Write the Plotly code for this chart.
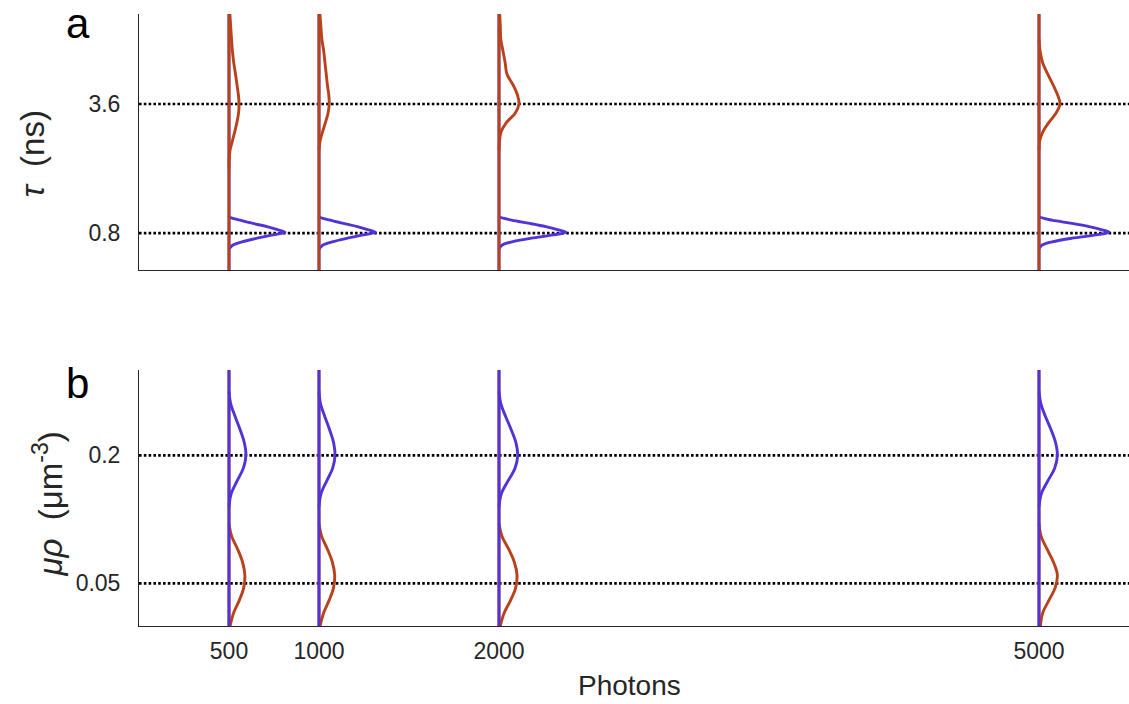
import plotly.graph_objects as go

# ---------------------------------------------------------------------------
# Data
# ---------------------------------------------------------------------------
PHOTONS = [500, 1000, 2000, 5000]
PHOTON_LABELS = ["500", "1000", "2000", "5000"]

# ground-truth values (dotted reference lines)
TAU_TRUE = [0.8, 3.6]          # ns
MU_RHO_TRUE = [0.05, 0.2]      # um^-3

# Panel a, species 1 (fast lifetime) posterior, width in photon units
TAU_GRID_S1 = [1.17, 1.15, 1.08, 1.01, 0.94, 0.87, 0.82, 0.76, 0.69, 0.61, 0.54, 0.48, 0.45]
S1_TAU_500 = [0, 2, 61, 133, 211, 272, 311, 244, 156, 72, 22, 6, 0]
S1_TAU_1000 = [0, 2, 62, 135, 213, 275, 313, 246, 158, 73, 22, 6, 0]
S1_TAU_2000 = [0, 3, 70, 170, 260, 330, 372, 300, 180, 72, 18, 3, 0]
S1_TAU_5000 = [0, 3, 72, 183, 278, 350, 389, 317, 183, 72, 17, 3, 0]

# Panel a, species 2 (slow lifetime) posterior
TAU_GRID_S2 = [5.55, 5.30, 5.00, 4.75, 4.50, 4.25, 4.00, 3.80, 3.60, 3.40, 3.20, 3.00, 2.80, 2.60, 2.40, 2.20]
S2_TAU_500 = [5, 9, 14, 19, 26, 36, 45, 52, 56, 53, 44, 32, 19, 6, 1, 0]
S2_TAU_1000 = [5, 10, 16, 26, 33, 40, 47, 54, 57, 50, 36, 20, 6, 0, 0, 0]
S2_TAU_2000 = [4, 7, 10, 22, 34, 44, 80, 102, 111, 90, 42, 12, 3, 0, 0, 0]
S2_TAU_5000 = [0, 0, 0, 6, 20, 48, 80, 103, 117, 94, 55, 22, 4, 0, 0, 0]

# Panel b, species 1 brightness posterior
MU_GRID_S1 = [0.275, 0.26, 0.245, 0.23, 0.215, 0.20, 0.185, 0.17, 0.155, 0.14]
S1_MU_500 = [0, 10, 35, 62, 85, 94, 80, 45, 12, 0]
S1_MU_1000 = [0, 9, 33, 59, 81, 89, 76, 43, 11, 0]
S1_MU_2000 = [0, 11, 38, 68, 94, 104, 89, 50, 13, 0]
S1_MU_5000 = [0, 11, 37, 67, 92, 102, 87, 49, 13, 0]

# Panel b, species 2 brightness posterior
MU_GRID_S2 = [0.12, 0.105, 0.09, 0.075, 0.06, 0.045, 0.03, 0.015, 0.0]
S2_MU_500 = [0, 15, 48, 75, 88, 82, 57, 25, 6]
S2_MU_1000 = [0, 15, 47, 74, 87, 81, 56, 25, 6]
S2_MU_2000 = [0, 17, 54, 85, 100, 93, 64, 28, 7]
S2_MU_5000 = [0, 12, 45, 80, 102, 90, 55, 20, 8]

TAU_RANGE = [0, 5.55]
MU_RHO_RANGE = [0, 0.30]
PHOTON_RANGE = [0, 5500]

BLUE = "#5234D6"
RED = "#B8421E"
INK = "#262626"
FONT = "Liberation Sans, Arial, sans-serif"
LW = 2.9

S1_TAU = dict(zip(PHOTONS, [S1_TAU_500, S1_TAU_1000, S1_TAU_2000, S1_TAU_5000]))
S2_TAU = dict(zip(PHOTONS, [S2_TAU_500, S2_TAU_1000, S2_TAU_2000, S2_TAU_5000]))
S1_MU = dict(zip(PHOTONS, [S1_MU_500, S1_MU_1000, S1_MU_2000, S1_MU_5000]))
S2_MU = dict(zip(PHOTONS, [S2_MU_500, S2_MU_1000, S2_MU_2000, S2_MU_5000]))


def trim(grid, widths):
    """Drop repeated zero-width samples at both ends, keeping one zero."""
    idx = [i for i, w in enumerate(widths) if w > 0]
    lo = max(idx[0] - 1, 0)
    hi = min(idx[-1] + 1, len(widths) - 1)
    return grid[lo:hi + 1], widths[lo:hi + 1]


fig = go.Figure()


def add_species(grid, table, color, xa, ya, yrange):
    for n in PHOTONS:
        # vertical baseline at the photon count
        fig.add_trace(go.Scatter(
            x=[n, n], y=yrange, mode="lines", xaxis=xa, yaxis=ya,
            line=dict(color=color, width=LW), hoverinfo="skip", showlegend=False))
        g, w = trim(grid, table[n])
        fig.add_trace(go.Scatter(
            x=[n + v for v in w], y=g, mode="lines", xaxis=xa, yaxis=ya,
            line=dict(color=color, width=LW, shape="spline", smoothing=1.0),
            hoverinfo="skip", showlegend=False))


# panel a: species 2 drawn over species 1
add_species(TAU_GRID_S1, S1_TAU, BLUE, "x", "y", TAU_RANGE)
add_species(TAU_GRID_S2, S2_TAU, RED, "x", "y", TAU_RANGE)
# panel b: species 1 drawn over species 2
add_species(MU_GRID_S2, S2_MU, RED, "x2", "y2", MU_RHO_RANGE)
add_species(MU_GRID_S1, S1_MU, BLUE, "x2", "y2", MU_RHO_RANGE)

# dotted ground-truth lines
for v in TAU_TRUE:
    fig.add_shape(type="line", xref="x domain", yref="y", x0=0, x1=1, y0=v, y1=v,
                  layer="below", line=dict(color="black", width=2.6, dash="2.6px,2.2px"))
for v in MU_RHO_TRUE:
    fig.add_shape(type="line", xref="x2 domain", yref="y2", x0=0, x1=1, y0=v, y1=v,
                  layer="below", line=dict(color="black", width=2.6, dash="2.6px,2.2px"))

axis_common = dict(showgrid=False, zeroline=False, showline=True, linecolor=INK,
                   linewidth=1, mirror=False,
                   tickfont=dict(family=FONT, size=23, color=INK))

fig.update_layout(
    width=1129, height=704,
    margin=dict(l=139, r=0, t=14, b=78),
    paper_bgcolor="white", plot_bgcolor="white",
    font=dict(family=FONT, color=INK),
    xaxis=dict(domain=[0, 1], range=PHOTON_RANGE, anchor="y",
               showticklabels=False, ticks="", **axis_common),
    yaxis=dict(domain=[0.5817, 1], range=TAU_RANGE, anchor="x",
               tickvals=TAU_TRUE, ticktext=[str(v) for v in TAU_TRUE],
               ticks="outside", ticklen=13, tickcolor="rgba(0,0,0,0)", **axis_common),
    xaxis2=dict(domain=[0, 1], range=PHOTON_RANGE, anchor="y2",
                tickvals=PHOTONS, ticktext=PHOTON_LABELS,
                ticks="outside", ticklen=4, tickcolor="rgba(0,0,0,0)", **axis_common),
    yaxis2=dict(domain=[0, 0.4183], range=MU_RHO_RANGE, anchor="x2",
                tickvals=MU_RHO_TRUE, ticktext=[str(v) for v in MU_RHO_TRUE],
                ticks="outside", ticklen=13, tickcolor="rgba(0,0,0,0)", **axis_common),
)

annotations = [
    dict(text="<i>τ</i>  (ns)", x=-0.108, y=0.772, textangle=-90,
         font=dict(size=33, family=FONT, color=INK)),
    dict(text="<i>μρ</i>  (μm<sup>-3</sup>)", x=-0.092, y=0.2, textangle=-90,
         font=dict(size=33, family=FONT, color=INK)),
    dict(text="Photons", x=0.495, y=-0.098,
         font=dict(size=28, family=FONT, color=INK)),
    dict(text="a", x=-0.062, y=0.985, font=dict(size=42, family=FONT, color="black")),
    dict(text="b", x=-0.062, y=0.397, font=dict(size=42, family=FONT, color="black")),
]
for a in annotations:
    fig.add_annotation(xref="paper", yref="paper", showarrow=False,
                       xanchor="center", yanchor="middle", **a)

fig.write_html("out.html")
